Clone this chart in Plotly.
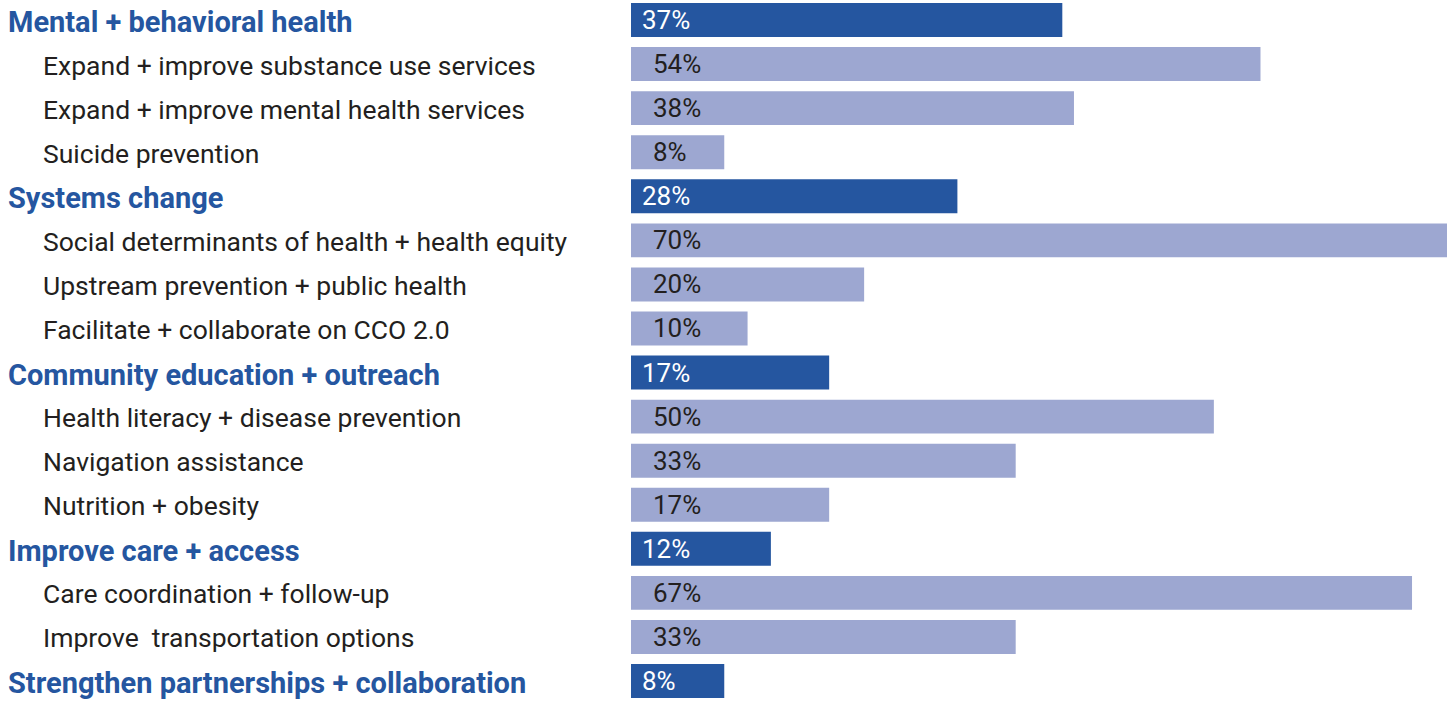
import plotly.graph_objects as go

labels = [
    "Mental + behavioral health",
    "Expand + improve substance use services",
    "Expand + improve mental health services",
    "Suicide prevention",
    "Systems change",
    "Social determinants of health + health equity",
    "Upstream prevention + public health",
    "Facilitate + collaborate on CCO 2.0",
    "Community education + outreach",
    "Health literacy + disease prevention",
    "Navigation assistance",
    "Nutrition + obesity",
    "Improve care + access",
    "Care coordination + follow-up",
    "Improve  transportation options",
    "Strengthen partnerships + collaboration",
]
values = [37, 54, 38, 8, 28, 70, 20, 10, 17, 50, 33, 17, 12, 67, 33, 8]
is_category = [True, False, False, False, True, False, False, False,
               True, False, False, False, True, False, False, True]

DARK = "#2556A0"
LIGHT = "#9DA7D1"
TEXT = "#231F20"

ypos = list(range(len(labels)))
colors = [DARK if c else LIGHT for c in is_category]

L, R = 631, 8
PW = 1455 - L - R

fig = go.Figure(go.Bar(
    x=values, y=ypos, orientation="h",
    marker=dict(color=colors, line=dict(width=0)),
    hoverinfo="skip",
))

annotations = []
for i, (lab, v, cat) in enumerate(zip(labels, values, is_category)):
    annotations.append(dict(
        x=(6 - L) / PW if cat else (41 - L) / PW,
        xref="paper", y=i, yref="y", xanchor="left", yanchor="middle",
        yshift=-2 if cat else -1,
        text=f"<b>{lab}</b>" if cat else lab, showarrow=False,
        font=dict(family="Roboto", size=29 if cat else 26.5,
                  color=DARK if cat else TEXT),
    ))
    annotations.append(dict(
        x=0, xref="x", y=i, yref="y", xanchor="left", yanchor="middle",
        xshift=9 if cat else 20,
        text=f"{v}%", showarrow=False,
        font=dict(family="Roboto", size=26,
                  color="white" if cat else TEXT),
    ))

fig.update_layout(
    width=1455, height=702,
    margin=dict(l=L, r=R, t=0, b=0),
    paper_bgcolor="white", plot_bgcolor="white",
    bargap=0.23, showlegend=False,
    xaxis=dict(range=[0, 70], visible=False, fixedrange=True),
    yaxis=dict(range=[15.476, -0.454], visible=False, fixedrange=True),
    annotations=annotations,
)

fig.write_html(
    "out.html",
    config={"displayModeBar": False},
    post_script="document.body.style.margin='0';document.body.style.overflow='hidden';",
)
